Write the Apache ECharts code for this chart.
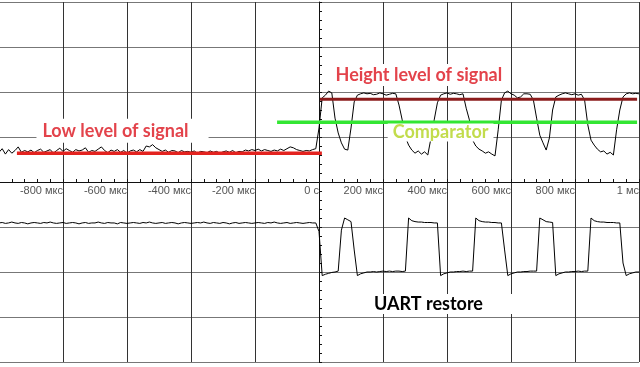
<!DOCTYPE html>
<html>
<head>
<meta charset="utf-8">
<script src="https://cdn.jsdelivr.net/npm/echarts@6/dist/echarts.min.js"></script>
<style>html,body{margin:0;padding:0;background:#fff}#c{width:640px;height:367px}</style>
</head>
<body>
<div id="c"></div>
<script>
// time base of the captured record (µs)
const sampleStart = -1000;
const sampleStep = 10;

// channel 1 (analog signal), divisions
const ch1 = [
 0.66,0.74,0.62,0.72,0.64,0.70,0.78,0.66,0.70,0.67,
 0.71,0.65,0.70,0.73,0.66,0.69,0.72,0.64,0.70,0.75,
 0.68,0.74,0.70,0.66,0.72,0.69,0.71,0.76,0.66,0.70,
 0.68,0.73,0.78,0.70,0.65,0.71,0.68,0.72,0.66,0.70,
 0.64,0.69,0.71,0.67,0.72,0.68,0.80,0.78,0.83,0.76,
 0.72,0.68,0.71,0.66,0.70,0.69,0.65,0.70,0.67,0.68,
 0.66,0.69,0.64,0.68,0.67,0.65,0.69,0.66,0.68,0.64,
 0.67,0.69,0.66,0.70,0.65,0.68,0.67,0.71,0.69,0.72,
 0.70,0.73,0.69,0.72,0.70,0.68,0.71,0.69,0.73,0.70,
 0.74,0.78,0.76,0.72,0.70,0.68,0.70,0.69,0.72,0.74,
 1.20,1.87,1.93,2.02,1.98,1.42,1.09,0.87,0.73,0.71,
 1.20,1.78,1.93,1.96,1.98,1.96,1.97,1.94,1.95,1.98,
 1.96,1.93,1.95,1.97,1.96,1.71,1.38,1.00,0.82,0.71,
 0.64,0.69,0.62,0.67,0.60,0.98,1.38,1.76,1.93,1.96,
 1.98,1.95,1.97,1.96,1.94,1.96,1.64,1.38,0.93,0.80,
 0.73,0.69,0.64,0.67,0.62,0.58,1.16,1.82,1.98,2.02,
 1.96,1.93,1.87,1.89,1.96,1.96,1.95,1.82,1.42,1.04,
 0.87,0.71,0.98,1.60,1.89,1.93,1.96,1.98,1.96,1.94,
 1.96,1.93,1.95,1.82,1.27,0.93,0.82,0.73,0.67,0.69,
 0.62,0.66,0.60,1.16,1.60,1.89,1.96,1.98,1.96,1.97,
 1.96
];

// channel 2 (UART restore), divisions
const ch2 = [
 -0.91,-0.90,-0.92,-0.91,-0.89,-0.91,-0.92,-0.90,-0.91,-0.93,
 -0.91,-0.90,-0.91,-0.92,-0.90,-0.91,-0.89,-0.91,-0.92,-0.91,
 -0.90,-0.92,-0.91,-0.90,-0.91,-0.93,-0.91,-0.90,-0.92,-0.91,
 -0.91,-0.89,-0.91,-0.92,-0.90,-0.91,-0.91,-0.93,-0.90,-0.91,
 -0.92,-0.91,-0.90,-0.91,-0.92,-0.90,-0.91,-0.89,-0.91,-0.92,
 -0.91,-0.90,-0.92,-0.91,-0.90,-0.91,-0.93,-0.91,-0.90,-0.91,
 -0.92,-0.91,-0.90,-0.91,-0.89,-0.91,-0.92,-0.90,-0.91,-0.92,
 -0.90,-0.91,-0.93,-0.91,-0.90,-0.92,-0.91,-0.90,-0.91,-0.92,
 -0.91,-0.90,-0.91,-0.92,-0.90,-0.91,-0.89,-0.91,-0.92,-0.91,
 -0.90,-0.92,-0.91,-0.90,-0.91,-0.92,-0.91,-0.90,-0.91,-0.91,
 -1.10,-2.08,-2.05,-2.03,-2.01,-2.00,-1.98,-1.07,-0.80,-0.84,
 -0.88,-1.51,-2.08,-2.04,-2.02,-2.00,-2.00,-1.99,-2.00,-1.99,
 -1.98,-1.99,-1.98,-1.99,-1.98,-1.98,-1.99,-1.98,-0.80,-0.86,
 -0.88,-0.89,-0.89,-0.90,-0.90,-0.90,-0.91,-0.91,-2.08,-2.04,
 -2.02,-2.00,-2.00,-1.99,-1.99,-1.98,-1.99,-1.98,-1.98,-0.80,
 -0.86,-0.88,-0.89,-0.89,-0.90,-0.90,-0.91,-0.91,-1.51,-2.08,
 -2.04,-2.02,-2.00,-2.00,-1.99,-1.99,-1.98,-1.98,-1.98,-0.80,
 -0.84,-0.88,-0.89,-0.90,-2.08,-2.04,-2.02,-2.00,-2.00,-1.99,
 -1.99,-1.98,-1.99,-1.98,-1.98,-0.80,-0.86,-0.88,-0.89,-0.89,
 -0.90,-0.90,-0.90,-0.91,-0.91,-1.80,-2.08,-2.04,-2.02,-2.00,
 -2.00
];

// hand-drawn reference levels: [startTime, endTime, level]
const lowLevel = [-944, 9, 0.64];
const highLevel = [3, 994, 1.84];
const comparatorLevel = [-131, 994, 1.33];

// x tick labels
const tickLabels = {'-800':'-800 мкс','-600':'-600 мкс','-400':'-400 мкс','-200':'-200 мкс','0':'0 с','200':'200 мкс','400':'400 мкс','600':'600 мкс','800':'800 мкс','1000':'1 мс'};

// annotation texts (anchor = centre of the white box, in data coords)
const notes = [
  {text:'Low level of signal', at:[-614, 1.14], color:'#e3434b', pad:[3,20,3,6]},
  {text:'Height level of signal', at:[312, 2.38], color:'#e3434b', pad:[2,8,2,8]},
  {text:'Comparator', at:[380, 1.10], color:'#c2dc4c', pad:[0,5,0,5]},
  {text:'UART restore', at:[389, -2.71], color:'#000000', pad:[1,34,1,4]}
];

const toPairs = arr => arr.map((v, i) => [sampleStart + i * sampleStep, v]);
const seg = s => [[s[0], s[2]], [s[1], s[2]]];

const chart = echarts.init(document.getElementById('c'), null, {renderer:'canvas'});
const axisColor = '#111';
const option = {
  animation: false,
  backgroundColor: '#ffffff',
  grid: {left: -1, right: 1, top: 2, bottom: 5, containLabel: false, outerBoundsMode: 'none'},
  xAxis: [
    {
      type: 'value', min: -1000, max: 1000, interval: 200,
      axisLine: {show: false, onZero: false}, axisTick: {show: false}, axisLabel: {show: false},
      splitLine: {show: true, lineStyle: {color: '#333', width: 1}}
    },
    {
      type: 'value', min: -1000, max: 1000, interval: 200, position: 'bottom', offset: -180,
      axisLine: {show: true, onZero: false, lineStyle: {color: axisColor, width: 1}},
      axisTick: {show: true, inside: true, length: 3, lineStyle: {color: axisColor}},
      minorTick: {show: true, splitNumber: 5, length: 3, lineStyle: {color: axisColor}},
      axisLabel: {
        show: true, align: 'right', margin: 3, color: '#555',
        fontFamily: 'Liberation Sans', fontSize: 11, showMinLabel: false, hideOverlap: false,
        formatter: v => tickLabels[String(v)] || ''
      },
      splitLine: {show: false}
    }
  ],
  yAxis: [
    {
      type: 'value', min: -4, max: 4, interval: 1,
      axisLine: {show: false, onZero: false}, axisTick: {show: false}, axisLabel: {show: false},
      splitLine: {show: true, lineStyle: {color: '#777', width: 1}}
    },
    {
      type: 'value', min: -4, max: 4, interval: 1, position: 'left', offset: -320,
      axisLine: {show: true, onZero: false, lineStyle: {color: axisColor, width: 1}},
      axisTick: {show: true, inside: true, length: 3, lineStyle: {color: axisColor}},
      minorTick: {show: true, splitNumber: 5, length: 3, lineStyle: {color: axisColor}},
      axisLabel: {show: false},
      splitLine: {show: false}
    }
  ],
  series: [
    {type: 'line', data: toPairs(ch1), showSymbol: false, symbol: 'none', z: 3,
     lineStyle: {color: '#000', width: 1}},
    {type: 'line', data: toPairs(ch2), showSymbol: false, symbol: 'none', z: 3,
     lineStyle: {color: '#000', width: 1}},
    {type: 'line', data: seg(lowLevel), symbol: 'none', z: 4,
     lineStyle: {color: '#e3231f', width: 3.5}},
    {type: 'line', data: seg(highLevel), symbol: 'none', z: 4,
     lineStyle: {color: '#8b1c1c', width: 3}},
    {type: 'line', data: seg(comparatorLevel), symbol: 'none', z: 4,
     lineStyle: {color: '#33e633', width: 3.5}}
  ]
};
chart.setOption(option);

chart.setOption({
  graphic: notes.map(n => {
    const p = chart.convertToPixel({xAxisIndex: 0, yAxisIndex: 0}, n.at);
    return {
      type: 'text', x: p[0], y: p[1], z: 100,
      style: {
        text: n.text, fill: n.color,
        font: 'bold 18px Lato',
        align: 'center', verticalAlign: 'middle',
        backgroundColor: '#ffffff', padding: n.pad
      }
    };
  })
});
</script>
</body>
</html>
